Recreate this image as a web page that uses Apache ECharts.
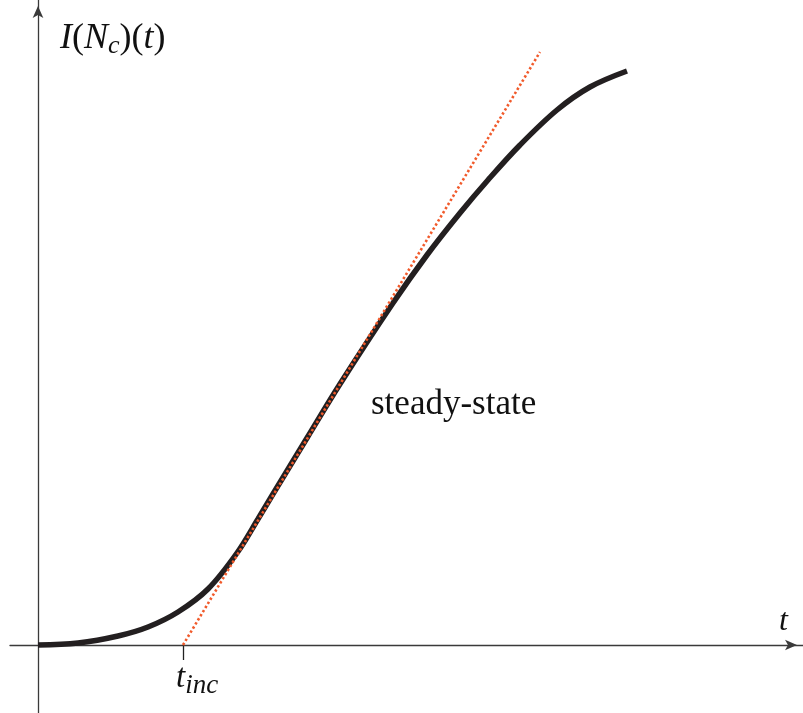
<!DOCTYPE html>
<html>
<head>
<meta charset="utf-8">
<script src="https://cdn.jsdelivr.net/npm/echarts@6/dist/echarts.min.js"></script>
<style>
  html, body { margin: 0; padding: 0; background: #fff; }
  #chart { width: 803px; height: 713px; }
</style>
</head>
<body>
<div id="chart"></div>
<script>
// curve I(N_c)(t) (origin at the axes crossing)
const curveT = [0, 40, 80, 110, 140, 170, 199, 220, 235, 269, 302, 355, 389, 422, 450, 482, 519, 552, 589];
const curveI = [0, 2, 9, 18, 33, 56, 92, 126, 151, 207, 261, 342, 390, 432, 465, 500, 535, 558, 574];
// steady-state tangent (dotted)
const tangentT = [145, 502];
const tangentI = [0, 593];
const tInc = 145;

const FONT = '"Liberation Serif", "DejaVu Serif", serif';
const axisColor = '#3a3a3a';

let chart = echarts.init(document.getElementById('chart'));

let option = {
    animation: false,
    backgroundColor: '#fff',
    grid: { left: 10, right: 0, top: 0, bottom: 0, containLabel: false, outerBoundsMode: 'none' },
    xAxis: {
        type: 'value',
        min: -28,
        max: 765,
        splitLine: { show: false },
        axisLine: {
            onZero: true,
            lineStyle: { color: axisColor, width: 1.3 },
            symbol: ['none', 'arrow'],
            symbolSize: [8, 12],
            symbolOffset: [0, -6]
        },
        axisTick: {
            show: true,
            customValues: [tInc],
            length: 15,
            lineStyle: { color: '#222', width: 1.3 }
        },
        axisLabel: { show: false }
    },
    yAxis: {
        type: 'value',
        min: -68,
        max: 645,
        splitLine: { show: false },
        axisTick: { show: false },
        axisLabel: { show: false },
        axisLine: {
            onZero: true,
            lineStyle: { color: axisColor, width: 1.3 },
            symbol: ['none', 'arrow'],
            symbolSize: [8, 12],
            symbolOffset: [0, -6]
        }
    },
    series: [
        {
            name: 'curve',
            type: 'line',
            data: curveT.map((t, i) => [t, curveI[i]]),
            smooth: 0.35,
            showSymbol: false,
            lineStyle: { color: '#231f20', width: 5.5 },
            z: 3
        },
        {
            name: 'tangent',
            type: 'line',
            data: tangentT.map((t, i) => [t, tangentI[i]]),
            showSymbol: false,
            lineStyle: { color: '#f15a2b', width: 2.6, type: [2.4, 2.4] },
            z: 4
        }
    ],
    graphic: [
        {
            type: 'text',
            left: 60,
            top: 21,
            style: {
                text: '{i|I}{p|(}{i|N}{s|c}{p|)(}{i|t}{p|)}',
                rich: {
                    i: { fontFamily: FONT, fontStyle: 'italic', fontSize: 36, fill: '#111' },
                    p: { fontFamily: FONT, fontSize: 36, fill: '#111' },
                    s: { fontFamily: FONT, fontStyle: 'italic', fontSize: 26, fill: '#111', padding: [14, 0, 0, 0] }
                }
            }
        },
        {
            type: 'text',
            left: 176,
            top: 662,
            style: {
                text: '{t|t}{s|inc}',
                rich: {
                    t: { fontFamily: FONT, fontStyle: 'italic', fontSize: 33, fill: '#111' },
                    s: { fontFamily: FONT, fontStyle: 'italic', fontSize: 27, fill: '#111', padding: [14, 0, 0, 0] }
                }
            }
        },
        {
            type: 'text',
            left: 779,
            top: 606,
            style: { text: 't', fontFamily: FONT, fontStyle: 'italic', fontSize: 32, fill: '#111' }
        },
        {
            type: 'text',
            left: 371,
            top: 387,
            style: { text: 'steady-state', fontFamily: FONT, fontSize: 35, fill: '#111' }
        }
    ]
};

chart.setOption(option);
</script>
</body>
</html>
